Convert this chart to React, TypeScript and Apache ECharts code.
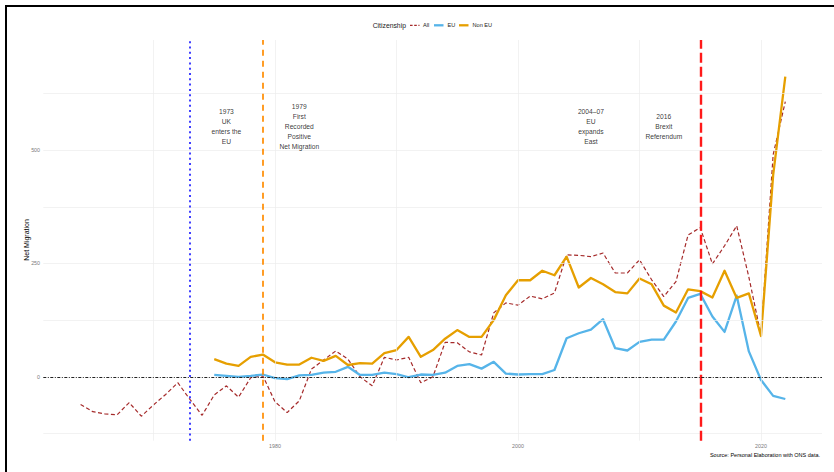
import React, { useEffect, useRef } from "react";
import * as echarts from "echarts";

// ---- Data ----
const ALL_YEARS = [
  1964, 1965, 1966, 1967, 1968, 1969, 1970, 1971, 1972, 1973, 1974, 1975, 1976, 1977, 1978, 1979,
  1980, 1981, 1982, 1983, 1984, 1985, 1986, 1987, 1988, 1989, 1990, 1991, 1992, 1993, 1994, 1995,
  1996, 1997, 1998, 1999, 2000, 2001, 2002, 2003, 2004, 2005, 2006, 2007, 2008, 2009, 2010, 2011,
  2012, 2013, 2014, 2015, 2016, 2017, 2018, 2019, 2020, 2021, 2022,
];
const ALL_VALUES = [
  -61, -77, -82, -84, -57, -87, -62, -39, -13, -50, -85, -40, -20, -45, -2, 2,
  -55, -79, -53, 17, 37, 57, 39, 0, -20, 43, 37, 43, -13, 0, 76, 75,
  55, 48, 141, 163, 158, 178, 172, 185, 269, 268, 265, 273, 229, 229, 258, 214,
  177, 210, 313, 329, 249, 289, 333, 220, 92, 490, 607,
];
const CIT_YEARS = [
  1975, 1976, 1977, 1978, 1979, 1980, 1981, 1982, 1983, 1984, 1985, 1986, 1987, 1988, 1989, 1990,
  1991, 1992, 1993, 1994, 1995, 1996, 1997, 1998, 1999, 2000, 2001, 2002, 2003, 2004, 2005, 2006,
  2007, 2008, 2009, 2010, 2011, 2012, 2013, 2014, 2015, 2016, 2017, 2018, 2019, 2020, 2021, 2022,
];
const EU_VALUES = [
  4, 2, 0, 2, 5, -3, -5, 3, 4, 9, 11, 22, 4, 4, 9, 6,
  -1, 5, 4, 9, 24, 28, 18, 33, 7, 5, 6, 6, 15, 85, 96, 104,
  127, 63, 58, 77, 82, 82, 122, 174, 183, 133, 99, 179, 56, -7, -42, -49,
];
const NON_EU_VALUES = [
  39, 29, 24, 44, 49, 32, 27, 27, 42, 35, 46, 26, 30, 29, 52, 59,
  88, 44, 59, 84, 103, 88, 88, 125, 180, 213, 213, 234, 224, 265, 197, 218,
  204, 187, 184, 217, 204, 157, 142, 193, 189, 175, 234, 174, 184, 90, 445, 662,
];

const X_LABELS = [1980, 2000, 2020];
const Y_LABELS = [0, 250, 500];
const X_GRID = [1970, 1980, 1990, 2000, 2010, 2020];
const Y_GRID = [-125, 125, 250, 375, 500, 625];

const EVENT_YEARS = [1973, 1979, 2015];
const ANNOT_X = [1976, 1982, 2006, 2012];
const ANNOT_Y = [552, 552, 552, 552];
const ANNOT_TEXT = [
  "1973\nUK\nenters the\nEU",
  "1979\nFirst\nRecorded\nPositive\nNet Migration",
  "2004–07\nEU\nexpands\nEast",
  "2016\nBrexit\nReferendum",
];

const LEGEND_NAMES = ["All", "EU", "Non EU"];
const COLORS = { all: "#A52A2A", eu: "#56B4E9", nonEu: "#E69F00" };

const FONT = "'Liberation Sans', Arial, Helvetica, sans-serif";

export default function App() {
  const ref = useRef<HTMLDivElement>(null);

  useEffect(() => {
    if (!ref.current) return;
    const chart = echarts.init(ref.current, undefined, { renderer: "svg" });

    const pairs = (xs: number[], ys: number[]) => xs.map((x, i) => [x, ys[i]]);

    const legendY = 25.3;
    const legendKeys = [
      { x1: 410, x2: 419.5, tx: 423, color: COLORS.all, width: 1.2, dash: [2.6, 1.6] },
      { x1: 434, x2: 443.5, tx: 447.5, color: COLORS.eu, width: 2.3, dash: null },
      { x1: 459, x2: 468.5, tx: 472.5, color: COLORS.nonEu, width: 2.3, dash: null },
    ];
    const legendGraphics: any[] = [];
    legendKeys.forEach((k, i) => {
      legendGraphics.push({
        type: "line",
        shape: { x1: k.x1, y1: legendY, x2: k.x2, y2: legendY },
        style: { stroke: k.color, lineWidth: k.width, lineDash: k.dash || undefined },
        silent: true,
      });
      legendGraphics.push({
        type: "text",
        x: k.tx,
        y: legendY,
        style: {
          text: LEGEND_NAMES[i],
          fontSize: 5.6,
          fill: "#222",
          fontFamily: FONT,
          align: "left",
          verticalAlign: "middle",
        },
      });
    });

    const option: any = {
      animation: false,
      backgroundColor: "#ffffff",
      textStyle: { fontFamily: FONT },
      grid: {
        left: 43.3,
        right: 12,
        top: 40,
        bottom: 31.3,
        containLabel: false,
        outerBoundsMode: "none",
      },
      xAxis: {
        type: "value",
        min: 1960.93,
        max: 2025.02,
        axisLine: { show: false },
        axisTick: { show: false },
        splitLine: { show: false },
        axisLabel: {
          customValues: X_LABELS,
          formatter: (v: number) => String(v),
          fontSize: 5.3,
          color: "#7a7a7a",
          margin: 2.5,
          fontFamily: FONT,
        },
      },
      yAxis: {
        type: "value",
        min: -141,
        max: 743,
        axisLine: { show: false },
        axisTick: { show: false },
        splitLine: { show: false },
        axisLabel: {
          customValues: Y_LABELS,
          formatter: (v: number) => String(v),
          fontSize: 5.3,
          color: "#7a7a7a",
          margin: 3.3,
          fontFamily: FONT,
        },
      },
      graphic: [
        {
          type: "rect",
          shape: { x: 6, y: 6, width: 840, height: 480 },
          style: { fill: "none", stroke: "#000", lineWidth: 2 },
          silent: true,
        },
        {
          type: "text",
          x: 372.7,
          y: legendY,
          style: {
            text: "Citizenship",
            fontSize: 6.8,
            fill: "#222",
            fontFamily: FONT,
            align: "left",
            verticalAlign: "middle",
          },
        },
        ...legendGraphics,
        {
          type: "text",
          x: 26,
          y: 240,
          rotation: Math.PI / 2,
          style: {
            text: "Net Migration",
            fontSize: 7,
            fill: "#000",
            fontFamily: FONT,
            align: "center",
            verticalAlign: "middle",
          },
        },
        {
          type: "text",
          x: 820,
          y: 454.7,
          style: {
            text: "Source: Personal Elaboration with ONS data.",
            fontSize: 5.5,
            fill: "#000",
            fontFamily: FONT,
            align: "right",
            verticalAlign: "middle",
          },
        },
      ],
      series: [
        {
          name: "gridlines",
          type: "line",
          data: [],
          z: 0,
          silent: true,
          markLine: {
            silent: true,
            symbol: ["none", "none"],
            label: { show: false },
            lineStyle: { color: "#ececec", width: 0.7, type: "solid" },
            data: [
              ...X_GRID.map((x) => ({ xAxis: x })),
              ...Y_GRID.map((y) => ({ yAxis: y })),
            ],
          },
        },
        {
          name: LEGEND_NAMES[0],
          type: "line",
          data: pairs(ALL_YEARS, ALL_VALUES),
          symbol: "none",
          showSymbol: false,
          z: 2,
          lineStyle: { color: COLORS.all, width: 1.2, type: [4, 2.5] },
          itemStyle: { color: COLORS.all },
        },
        {
          name: LEGEND_NAMES[1],
          type: "line",
          data: pairs(CIT_YEARS, EU_VALUES),
          symbol: "none",
          showSymbol: false,
          z: 3,
          lineStyle: { color: COLORS.eu, width: 2.3, join: "round" },
          itemStyle: { color: COLORS.eu },
        },
        {
          name: LEGEND_NAMES[2],
          type: "line",
          data: pairs(CIT_YEARS, NON_EU_VALUES),
          symbol: "none",
          showSymbol: false,
          z: 4,
          lineStyle: { color: COLORS.nonEu, width: 2.3, join: "round" },
          itemStyle: { color: COLORS.nonEu },
        },
        {
          name: "annotations",
          type: "scatter",
          z: 6,
          silent: true,
          symbolSize: 1,
          itemStyle: { color: "rgba(0,0,0,0)" },
          data: ANNOT_X.map((x, i) => ({ value: [x, ANNOT_Y[i]], name: ANNOT_TEXT[i] })),
          label: {
            show: true,
            position: "inside",
            formatter: "{b}",
            fontSize: 6.7,
            lineHeight: 10,
            color: "#000",
            align: "center",
            verticalAlign: "middle",
            fontFamily: FONT,
          },
          markLine: {
            silent: true,
            symbol: ["none", "none"],
            label: { show: false },
            z: 5,
            data: [
              {
                xAxis: EVENT_YEARS[0],
                lineStyle: { color: "#0000ff", width: 1.5, type: [2, 3.3] },
              },
              {
                xAxis: EVENT_YEARS[1],
                lineStyle: { color: "#FF8C00", width: 1.7, type: [6, 5] },
              },
              {
                xAxis: EVENT_YEARS[2],
                lineStyle: { color: "#ff1a1a", width: 2.4, type: [10, 4] },
              },
              {
                yAxis: 0,
                lineStyle: { color: "#222", width: 1, type: [3, 1.5, 1, 1.5] },
              },
            ],
          },
        },
      ],
    };

    chart.setOption(option);
    return () => chart.dispose();
  }, []);

  return (
    <div
      ref={ref}
      style={{ position: "absolute", left: 0, top: 0, width: 834, height: 472 }}
    />
  );
}
